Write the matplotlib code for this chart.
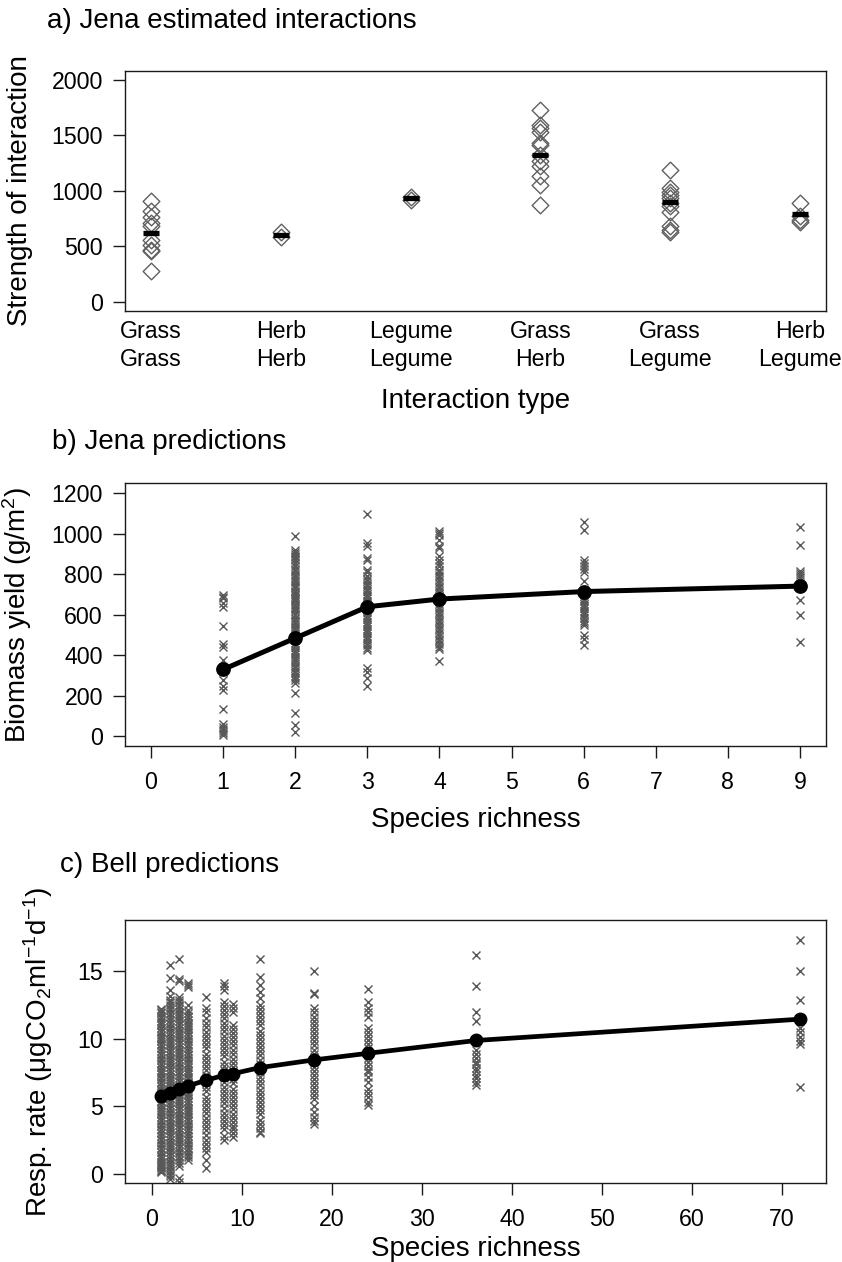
import matplotlib
matplotlib.use('Agg')
import matplotlib.pyplot as plt
from matplotlib.path import Path

plt.rcParams['font.family'] = ['Liberation Sans', 'DejaVu Sans']
plt.rcParams['mathtext.fontset'] = 'custom'
plt.rcParams['mathtext.rm'] = 'Liberation Sans'
plt.rcParams['mathtext.default'] = 'regular'
plt.rcParams.update({
    'axes.linewidth': 1.0,
    'axes.edgecolor': '#1a1a1a',
    'xtick.labelsize': 16.7,
    'ytick.labelsize': 16.7,
    'xtick.major.size': 8.4,
    'ytick.major.size': 8.4,
    'xtick.major.width': 1.0,
    'ytick.major.width': 1.0,
    'xtick.major.pad': 9.5,
    'ytick.major.pad': 7.5,
    'xtick.direction': 'out',
    'ytick.direction': 'out',
    'xtick.color': '#1a1a1a',
    'ytick.color': '#1a1a1a',
    'xtick.labelcolor': 'black',
    'ytick.labelcolor': 'black',
})

# ---- a) Jena estimated interactions
types = ['Grass\nGrass', 'Herb\nHerb', 'Legume\nLegume', 'Grass\nHerb', 'Grass\nLegume', 'Herb\nLegume']
grass_grass = [910, 820, 760, 710, 680, 560, 510, 470, 460, 275]
herb_herb = [625, 580]
legume_legume = [945, 920]
grass_herb = [1730, 1590, 1560, 1530, 1430, 1410, 1320, 1270, 1220, 1130, 1050, 875]
grass_legume = [1190, 1020, 990, 960, 930, 890, 860, 810, 680, 650, 625]
herb_legume = [890, 770, 740, 715]
type_means = [620, 600, 932, 1323, 895, 787]

# ---- b) Jena predictions
rich_b = [1, 2, 3, 4, 6, 9]
yield_1 = [699, 690, 683, 660, 641, 545, 455, 440, 377, 330, 319, 278, 250, 230, 137, 63, 48, 35, 25, 15, 8]
yield_2 = [988, 922, 910, 900, 893, 885, 878, 870, 855, 840, 828, 815, 800, 790, 781, 772, 760, 748,
           740, 731, 720, 712, 703, 695, 684, 676, 668, 655, 645, 636, 628, 617, 606, 598, 585, 574,
           566, 555, 541, 532, 520, 511, 500, 488, 476, 463, 451, 440, 428, 418, 405, 392, 380, 372,
           360, 348, 337, 325, 313, 300, 289, 276, 265, 215, 116, 55, 20]
yield_3 = [1096, 955, 942, 881, 870, 823, 810, 790, 778, 765, 752, 741, 730, 716, 705, 694, 683, 670,
           660, 648, 636, 625, 612, 600, 590, 578, 566, 555, 543, 530, 520, 508, 497, 485, 474, 462,
           450, 438, 425, 336, 319, 286, 248]
yield_4 = [1013, 1005, 997, 972, 942, 930, 889, 870, 856, 840, 823, 810, 797, 785, 770, 758, 745, 731,
           720, 706, 694, 680, 668, 655, 641, 630, 616, 603, 590, 577, 563, 550, 537, 524, 510, 497,
           483, 470, 456, 442, 430, 374]
yield_6 = [1060, 1017, 873, 855, 840, 826, 810, 765, 724, 691, 680, 668, 655, 644, 632, 620, 608, 597,
           585, 572, 560, 548, 501, 480, 451]
yield_9 = [1035, 947, 815, 805, 798, 787, 674, 597, 464]
yield_means = [330, 485, 640, 678, 715, 742]

# ---- c) Bell predictions
rich_c = [1, 2, 3, 4, 6, 8, 9, 12, 18, 24, 36, 72]
resp_1 = [12.2, 12.1, 12.0, 11.9, 11.7, 11.5, 11.3, 11.2, 11.0, 10.8, 10.6, 10.5, 10.3, 10.1, 10.0,
          9.8, 9.6, 9.5, 9.3, 9.1, 8.9, 8.8, 8.6, 8.4, 8.2, 8.1, 7.9, 7.7, 7.5, 7.4, 7.2, 7.0, 6.8,
          6.7, 6.5, 6.3, 6.1, 6.0, 5.8, 5.6, 5.4, 5.3, 5.1, 4.9, 4.7, 4.6, 4.4, 4.2, 4.0, 3.9, 3.7,
          3.5, 3.3, 3.2, 3.0, 2.8, 2.6, 2.5, 2.3, 2.1, 1.9, 1.8, 1.6, 1.4, 1.2, 1.1, 0.9, 0.7, 0.6,
          0.5, 0.4, 0.3, 0.2, 0.1]
resp_2 = [15.5, 14.5, 13.6, 13.2, 12.9, 12.7, 12.5, 12.3, 12.1, 11.9, 11.8, 11.6, 11.4, 11.2, 11.1,
          10.9, 10.7, 10.5, 10.4, 10.2, 10.0, 9.8, 9.7, 9.5, 9.3, 9.1, 9.0, 8.8, 8.6, 8.4, 8.3, 8.1,
          7.9, 7.7, 7.6, 7.4, 7.2, 7.0, 6.9, 6.7, 6.5, 6.3, 6.2, 6.0, 5.8, 5.6, 5.5, 5.3, 5.1, 4.9,
          4.8, 4.6, 4.4, 4.2, 4.1, 3.9, 3.7, 3.5, 3.4, 3.2, 3.0, 2.8, 2.7, 2.5, 2.3, 2.1, 2.0, 1.8,
          1.6, 1.4, 1.3, 1.1, 0.9, 0.7, 0.6, 0.4, 0.2, 0.0, -0.2, -0.4]
resp_3 = [15.9, 14.4, 14.3, 13.1, 12.9, 12.7, 12.5, 12.4, 12.2, 12.0, 11.8, 11.7, 11.5, 11.3, 11.1,
          11.0, 10.8, 10.6, 10.4, 10.3, 10.1, 9.9, 9.7, 9.6, 9.4, 9.2, 9.0, 8.9, 8.7, 8.5, 8.3, 8.2,
          8.0, 7.8, 7.6, 7.5, 7.3, 7.1, 6.9, 6.8, 6.6, 6.4, 6.2, 6.1, 5.9, 5.7, 5.5, 5.4, 5.2, 5.0,
          4.8, 4.7, 4.5, 4.3, 4.1, 4.0, 3.8, 3.6, 3.4, 3.3, 3.1, 2.9, 2.7, 2.6, 2.4, 2.2, 2.0, 1.9,
          1.7, 1.5, 1.3, 1.2, 1.0, 0.8, 0.6, -0.3, -0.6]
resp_4 = [14.1, 14.0, 13.8, 12.5, 12.1, 11.9, 11.7, 11.6, 11.4, 11.2, 11.0, 10.9, 10.7, 10.5, 10.3,
          10.2, 10.0, 9.8, 9.6, 9.5, 9.3, 9.1, 8.9, 8.8, 8.6, 8.4, 8.2, 8.1, 7.9, 7.7, 7.5, 7.4, 7.2,
          7.0, 6.8, 6.7, 6.5, 6.3, 6.1, 6.0, 5.8, 5.6, 5.4, 5.3, 5.1, 4.9, 4.7, 4.6, 4.4, 4.2, 4.0,
          3.9, 3.7, 3.5, 3.3, 3.2, 3.0, 2.8, 2.6, 2.5, 2.3, 2.1, 1.9, 1.8, 1.6, 1.4, 1.2, 1.0]
resp_6 = [13.1, 12.3, 12.0, 11.5, 11.2, 10.9, 10.5, 10.2, 9.9, 9.6, 9.3, 8.9, 8.6, 8.3, 8.0, 7.7, 7.3,
          7.0, 6.7, 6.4, 6.1, 5.7, 5.4, 5.1, 4.8, 4.5, 4.1, 3.8, 3.5, 3.2, 2.9, 2.5, 2.2, 1.9, 1.6,
          1.0, 0.4]
resp_8 = [14.1, 13.9, 13.6, 12.7, 12.4, 12.1, 11.8, 11.5, 11.2, 10.9, 10.6, 10.2, 9.9, 9.6, 9.3, 9.0,
          8.7, 8.3, 8.0, 7.7, 7.4, 7.1, 6.8, 6.4, 6.1, 5.8, 5.5, 5.2, 4.9, 4.5, 4.2, 3.9, 3.6, 3.3,
          2.8, 2.5]
resp_9 = [12.6, 12.3, 12.0, 11.0, 10.7, 10.4, 10.1, 9.8, 9.5, 9.2, 8.9, 8.5, 8.2, 7.9, 7.6, 7.3, 7.0,
          6.7, 6.3, 6.0, 5.7, 5.4, 5.1, 4.8, 4.4, 4.1, 3.8, 3.5, 3.3, 3.0, 2.7]
resp_12 = [15.9, 14.6, 14.0, 13.5, 13.0, 12.5, 12.2, 11.9, 11.6, 11.3, 11.0, 10.6, 10.3, 10.0, 9.7,
           9.4, 9.1, 8.8, 8.4, 8.1, 7.8, 7.5, 7.2, 6.9, 6.6, 6.2, 5.9, 5.6, 5.3, 5.0, 4.7, 4.4, 4.0,
           3.7, 3.4, 3.1, 3.0]
resp_18 = [15.0, 13.4, 13.3, 12.3, 12.0, 11.6, 11.3, 11.0, 10.7, 10.4, 10.1, 9.8, 9.5, 9.2, 8.9, 8.6,
           8.2, 7.9, 7.6, 7.3, 7.0, 6.7, 6.4, 6.1, 5.8, 5.5, 5.0, 4.6, 4.2, 3.9, 3.7]
resp_24 = [13.7, 12.7, 12.3, 12.0, 11.6, 10.8, 10.5, 10.2, 9.9, 9.6, 9.3, 9.0, 8.6, 8.3, 8.0, 7.7,
           7.5, 7.2, 6.8, 6.3, 6.0, 5.7, 5.3, 5.1]
resp_36 = [16.2, 13.9, 12.0, 11.3, 9.2, 8.9, 8.6, 8.3, 8.1, 7.8, 7.6, 7.3, 7.1, 6.8, 6.6]
resp_72 = [17.3, 15.0, 12.9, 10.8, 10.5, 10.1, 9.8, 9.6, 6.4]
resp_means = [5.76, 6.0, 6.25, 6.5, 6.92, 7.29, 7.41, 7.86, 8.43, 8.92, 9.87, 11.45]

gray = '#585858'
diamond = Path([(0, 1), (1, 0), (0, -1), (-1, 0), (0, 1)],
               [Path.MOVETO, Path.LINETO, Path.LINETO, Path.LINETO, Path.CLOSEPOLY])

W, H = 842, 1262
fig = plt.figure(figsize=(W / 100, H / 100), dpi=100)


def box(left, top, right, bottom):
    return [left / W, 1 - bottom / H, (right - left) / W, (bottom - top) / H]


ax_a = fig.add_axes(box(125, 70.7, 826, 310.7))
ax_b = fig.add_axes(box(125, 483.3, 826, 746))
ax_c = fig.add_axes(box(125, 920, 826, 1182.7))

# a)
groups_a = [grass_grass, herb_herb, legume_legume, grass_herb, grass_legume, herb_legume]
for i, vals in enumerate(groups_a):
    ax_a.plot([i + 1] * len(vals), vals, linestyle='none', marker=diamond, ms=12,
              mfc='none', mec='#606060', mew=1.0)
ax_a.plot(range(1, 7), type_means, linestyle='none', marker='_', ms=12, mew=3.8, color='black')
ax_a.set_xlim(0.8, 6.2)
ax_a.set_ylim(-80, 2080)
ax_a.set_yticks([0, 500, 1000, 1500, 2000])
ax_a.set_xticks(range(1, 7))
ax_a.set_xticklabels(types, linespacing=1.3, fontsize=16.7)
ax_a.tick_params(axis='x', length=0, pad=6.5)
ax_a.set_ylabel('Strength of interaction', fontsize=20)
ax_a.yaxis.set_label_coords(-0.131, 0.5)
ax_a.set_xlabel('Interaction type', fontsize=20)
ax_a.xaxis.set_label_coords(0.5, -0.322)

# b)
groups_b = [yield_1, yield_2, yield_3, yield_4, yield_6, yield_9]
for x, vals in zip(rich_b, groups_b):
    ax_b.plot([x] * len(vals), vals, linestyle='none', marker='x', ms=5.5, mew=1.0, color=gray)
ax_b.plot(rich_b, yield_means, '-o', color='black', lw=3.6, ms=9.6)
ax_b.set_xlim(-0.36, 9.36)
ax_b.set_ylim(-48, 1250)
ax_b.set_xticks(range(0, 10))
ax_b.set_yticks(range(0, 1201, 200))
ax_b.set_ylabel('Biomass yield (g/m$^{2}$)', fontsize=20)
ax_b.yaxis.set_label_coords(-0.13, 0.5)
ax_b.set_xlabel('Species richness', fontsize=20)
ax_b.xaxis.set_label_coords(0.5, -0.232)

# c)
groups_c = [resp_1, resp_2, resp_3, resp_4, resp_6, resp_8, resp_9, resp_12, resp_18, resp_24,
            resp_36, resp_72]
for x, vals in zip(rich_c, groups_c):
    ax_c.plot([x] * len(vals), vals, linestyle='none', marker='x', ms=5.5, mew=1.05, color=gray)
ax_c.plot(rich_c, resp_means, '-o', color='black', lw=3.4, ms=9.0)
ax_c.set_xlim(-3.0, 74.9)
ax_c.set_ylim(-0.67, 18.8)
ax_c.set_xticks(range(0, 71, 10))
ax_c.set_yticks([0, 5, 10, 15])
ax_c.set_ylabel('Resp. rate (\u03bcgCO$_{2}$ml$^{-1}$d$^{-1}$)', fontsize=20)
ax_c.yaxis.set_label_coords(-0.10, 0.5)
ax_c.set_xlabel('Species richness', fontsize=20)
ax_c.xaxis.set_label_coords(0.5, -0.203)

# panel titles
fig.text(47 / W, 1 - 28 / H, 'a) Jena estimated interactions', fontsize=20, va='baseline')
fig.text(52 / W, 1 - 449 / H, 'b) Jena predictions', fontsize=20, va='baseline')
fig.text(60 / W, 1 - 872 / H, 'c) Bell predictions', fontsize=20, va='baseline')

fig.savefig('out.png', dpi=100)
